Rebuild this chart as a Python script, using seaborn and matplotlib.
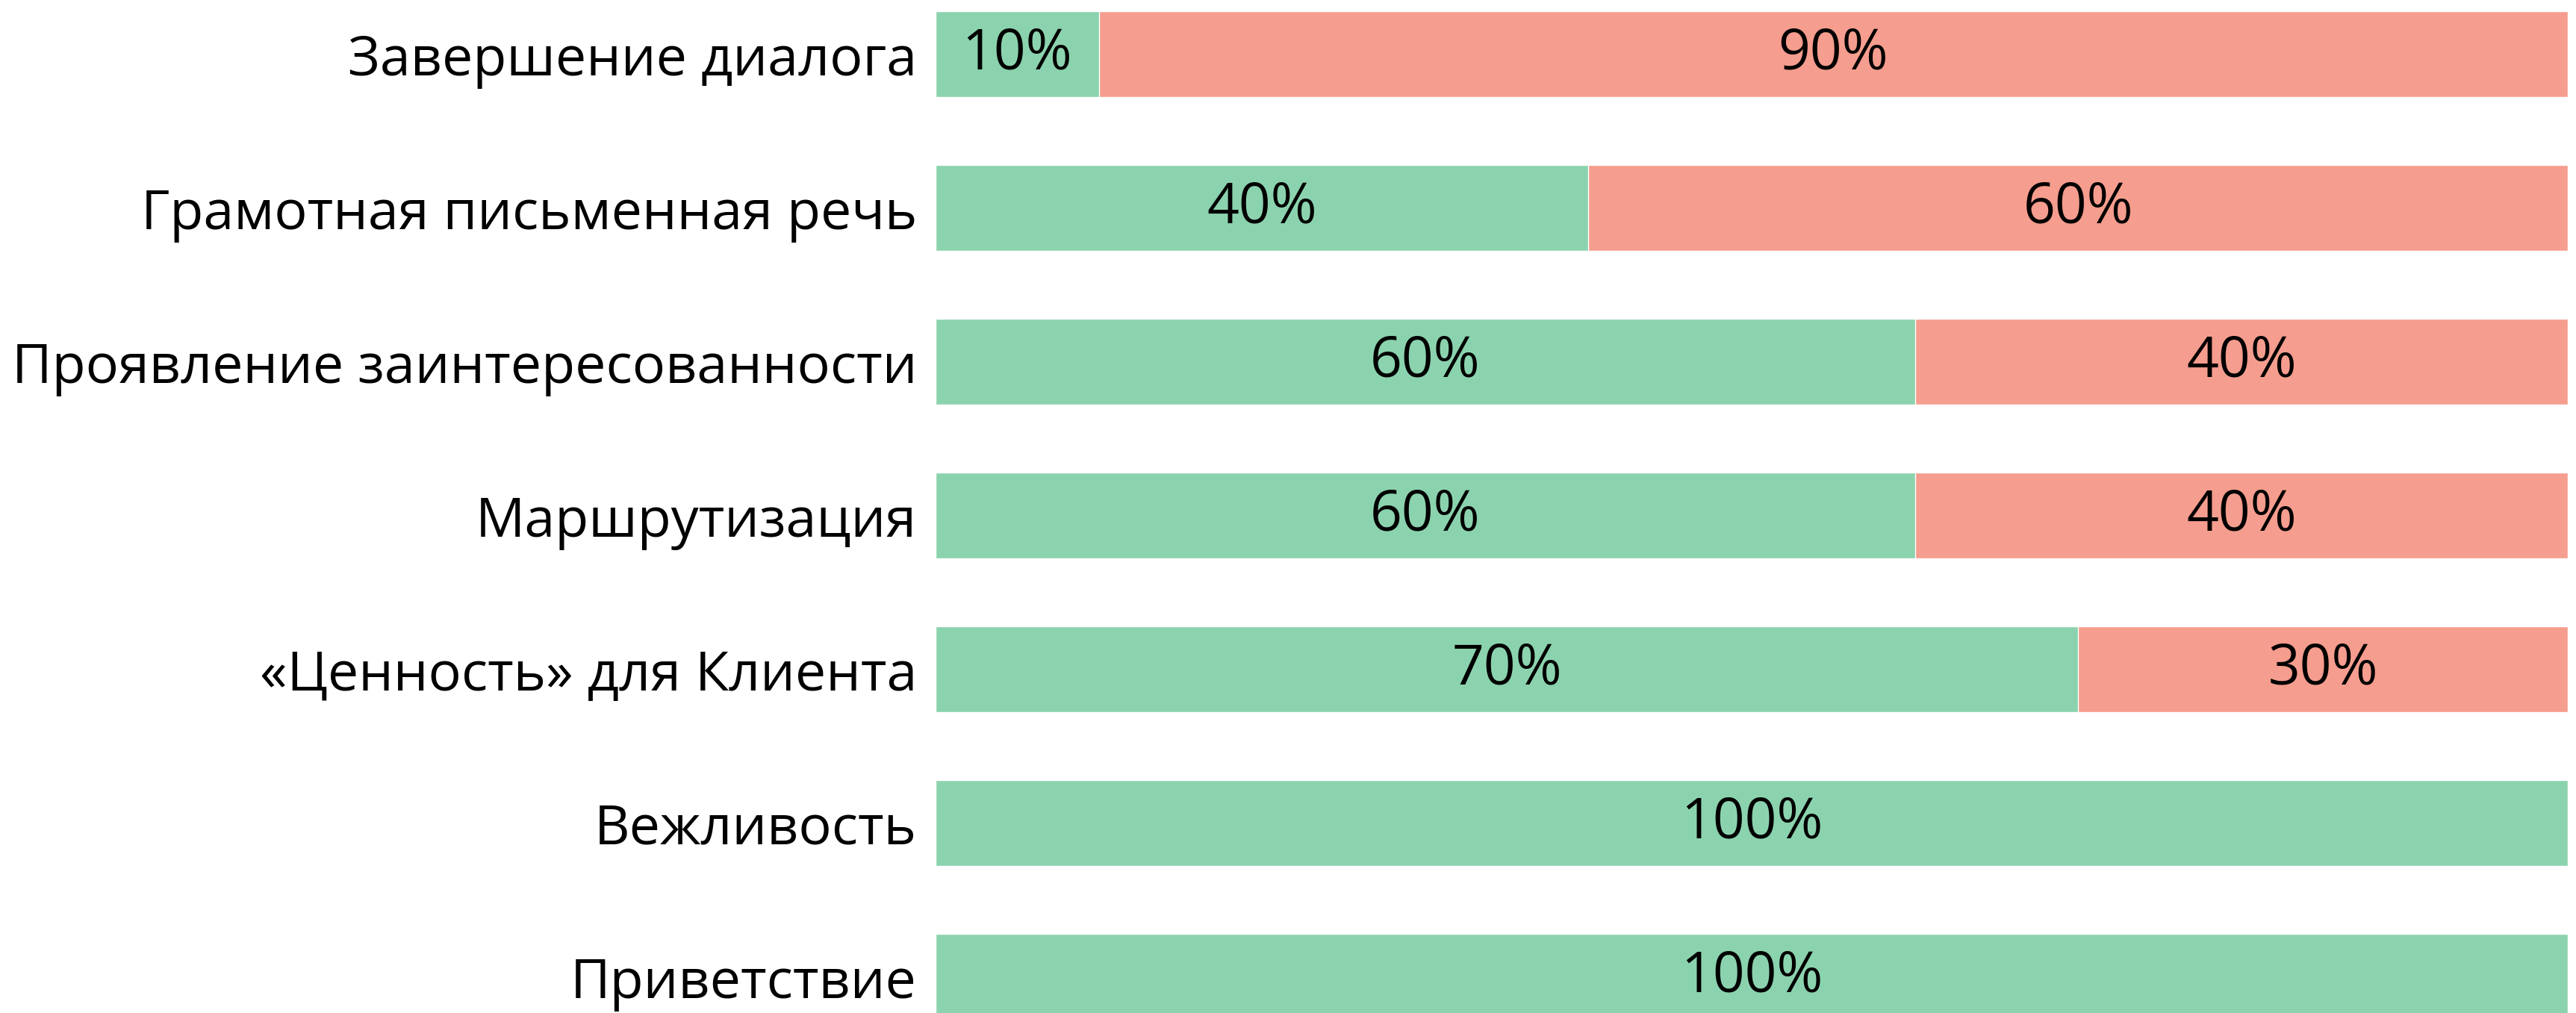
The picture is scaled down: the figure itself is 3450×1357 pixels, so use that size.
import pandas as pd
import seaborn as sns
import matplotlib.pyplot as plt

# Data
categories = ["Завершение диалога", "Грамотная письменная речь",
              "Проявление заинтересованности", "Маршрутизация",
              "«Ценность» для Клиента", "Вежливость", "Приветствие"]
good = [10, 40, 60, 60, 70, 100, 100]
bad = [90, 60, 40, 40, 30, 0, 0]

df = pd.DataFrame({"cat": categories, "good": good, "bad": bad})
df["total"] = df["good"] + df["bad"]

sns.set_theme(style="white")
plt.rcParams['font.family'] = ['Open Sans', 'DejaVu Sans']

green = "#8BD3AE"
salmon = "#F59D8E"

fig = plt.figure(figsize=(34.5, 13.57), dpi=100)
ax = fig.add_axes([0.3632, 0.0, 0.6336, 1.0])

# salmon full-length bar underneath, green share drawn on top
sns.barplot(data=df, x="total", y="cat", color=salmon, width=0.56,
            saturation=1, ax=ax, orient="h")
sns.barplot(data=df, x="good", y="cat", color=green, width=0.56,
            saturation=1, ax=ax, orient="h")

# percentage labels in the middle of each segment
fs = 54
for i, row in df.iterrows():
    if row["good"] > 0:
        ax.text(row["good"] / 2, i, f"{row['good']}%", ha="center", va="center",
                fontsize=fs, color="black")
    if row["bad"] > 0:
        ax.text(row["good"] + row["bad"] / 2, i, f"{row['bad']}%", ha="center",
                va="center", fontsize=fs, color="black")

ax.set_xlim(0, 100)
ax.set_ylim(6.235, -0.352)
ax.set_xlabel("")
ax.set_ylabel("")
ax.set_xticks([])
ax.tick_params(axis="y", length=0, pad=18, labelsize=53, labelcolor="black")
sns.despine(ax=ax, left=True, bottom=True)

plt.savefig("out.png", dpi=100)
